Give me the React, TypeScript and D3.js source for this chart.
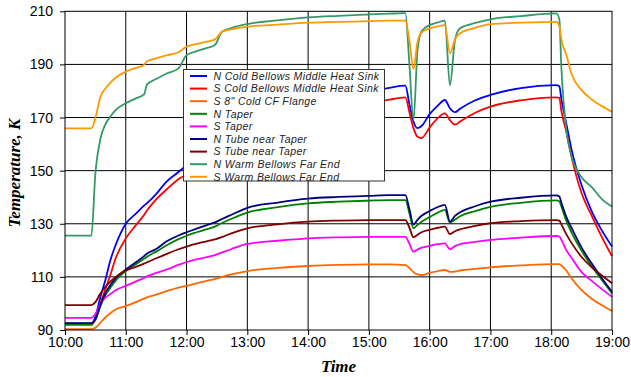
import * as d3 from "d3";
import * as React from "react";

// sample times (hh:mm), shared by every series
const times = [
  "10:00", "10:26", "10:30", "10:35", "10:40", "10:45", "10:50", "11:00", "11:10", "11:18",
  "11:21", "11:30", "11:40", "11:52", "12:00", "12:10", "12:20", "12:28", "12:35", "12:45",
  "13:00", "13:30", "14:00", "14:30", "15:00", "15:20", "15:36", "15:40", "15:44", "15:48",
  "15:52", "16:00", "16:08", "16:15", "16:20", "16:25", "16:30", "16:45", "17:00", "17:30",
  "18:05", "18:08", "18:10", "18:15", "18:20", "18:30", "18:40", "18:50", "19:00",
];

// temperatures, K
const nColdBellows = [
  92.4, 92.4, 95, 102.5, 109, 116.5, 122, 130, 133.8, 136.8,
  137.8, 141.2, 145.8, 149.5, 152, 155, 158, 160, 161.8, 164,
  167, 171.5, 175, 177.8, 179.8, 181.2, 182, 175, 168.5, 166,
  166.8, 171.3, 174.5, 176.6, 173.5, 172, 173.3, 176.5, 178.5, 181.1,
  182.2, 181.8, 177, 167.5, 158, 144.5, 134.7, 127.5, 121.4,
];
const sColdBellows = [
  91.9, 91.9, 94, 100, 105.5, 111, 117, 124.5, 129.5, 133.3,
  135, 139.2, 142.8, 146.8, 148.5, 151.5, 154, 156, 157.5, 159.5,
  162, 166, 169.5, 172.5, 175, 176.7, 177.6, 172, 166, 162.8,
  162.3, 166.3, 169.8, 171.6, 169, 167.3, 168.5, 171.8, 174.1, 176.5,
  177.6, 177.4, 172.5, 164.5, 155.3, 141.5, 133, 125, 117.8,
];
const cfFlange = [
  90.3, 90.3, 90.8, 92.8, 94.8, 96.4, 97.7, 99, 100.5, 101.8,
  102.3, 103.3, 104.6, 106, 106.6, 107.6, 108.5, 109.2, 110, 111,
  112.2, 113.4, 114.1, 114.5, 114.7, 114.7, 114.4, 113.3, 111.8, 110.9,
  110.7, 111.5, 112.2, 112.6, 111.9, 112, 112.4, 113, 113.6, 114.3,
  114.8, 114.8, 114.3, 112.3, 109.5, 105, 101.8, 99.3, 97.2,
];
const nTaper = [
  92.2, 92.2, 94, 99, 103.2, 106, 108.6, 112.2, 114.8, 116.8,
  117.6, 119.5, 121.8, 124.2, 125.5, 126.8, 128, 128.9, 130.3, 132,
  134.2, 136.3, 137.7, 138.3, 138.7, 138.9, 138.9, 134, 128.3, 129.6,
  130.8, 132.5, 134.2, 135.2, 130.4, 131.6, 132.8, 134.8, 136.4, 137.9,
  138.8, 138.5, 136.5, 131, 126.8, 119.8, 114, 108.8, 103.8,
];
const sTaper = [
  94.6, 94.6, 96, 100, 102.2, 103.6, 105, 106.6, 108.3, 109.6,
  110.2, 111.5, 112.7, 114.5, 115.6, 116.6, 117.4, 118.2, 119.2, 120.6,
  122.4, 123.6, 124.5, 124.9, 125.1, 125.1, 125.1, 122.5, 119.5, 120.3,
  121, 121.7, 122.3, 122.6, 120.4, 121.6, 122.3, 123.2, 123.9, 124.8,
  125.4, 125.2, 124, 120, 117.2, 111.8, 108.5, 105.4, 102.5,
];
const nTube = [
  92.6, 92.6, 94, 99.5, 104, 107, 109.5, 112.8, 115.5, 117.8,
  118.8, 120.5, 123.3, 125.6, 126.8, 128.2, 129.5, 130.5, 131.8, 133.5,
  136, 138, 139.5, 140.1, 140.5, 140.8, 140.8, 135.5, 129.7, 131.5,
  133, 134.8, 136.3, 137.1, 130.8, 133, 134.3, 136.6, 138.3, 139.8,
  140.7, 140.3, 138, 132.5, 128.5, 121, 115, 109.5, 104.4,
];
const sTube = [
  99.4, 99.4, 100.5, 103.8, 106.3, 108.3, 110, 112.4, 113.8, 115,
  115.5, 117, 118.6, 120.4, 121.4, 122.5, 123.4, 124.1, 125, 126.5,
  128.3, 129.8, 130.8, 131.2, 131.4, 131.4, 131.4, 128.5, 124.9, 125.9,
  126.8, 127.7, 128.5, 128.9, 126.1, 127.2, 127.9, 129.2, 130.2, 131,
  131.4, 131.2, 129.8, 126, 122.8, 117.5, 113.6, 110.5, 107.6,
];
const nWarmBellows = [
  125.5, 125.5, 149, 162, 167.5, 170.5, 172.8, 175.4, 177.2, 178.7,
  182.5, 184.5, 186.5, 188.5, 193.5, 195, 196.2, 197.3, 202.3, 203.8,
  205.2, 206.6, 207.7, 208.3, 208.8, 209.1, 209.3, 190, 169, 195.4,
  202.5, 204.8, 205.8, 206.5, 182.2, 199.2, 203.6, 205.6, 207, 208.2,
  209.2, 207, 189, 165, 155.5, 147.5, 143.8, 139.3, 136.5,
];
const sWarmBellows = [
  165.9, 165.9, 169.8, 177.8, 181, 183.2, 185, 187.3, 188.7, 189.8,
  191.2, 192.3, 193.4, 194.6, 196.7, 197.7, 198.6, 199.4, 202.3, 203.3,
  204.2, 205, 205.7, 206, 206.3, 206.5, 206.5, 199, 188.2, 198.5,
  202, 203.6, 204.3, 204.8, 194.2, 199.5, 201.7, 203.8, 205.2, 205.7,
  206, 204.5, 199.5, 193.5, 186.5, 180.3, 176.8, 174.3, 172.2,
];

const seriesNames = [
  "N Cold Bellows Middle Heat Sink",
  "S Cold Bellows Middle Heat Sink",
  "S 8\" Cold CF Flange",
  "N Taper",
  "S Taper",
  "N Tube near Taper",
  "S Tube near Taper",
  "N Warm Bellows Far End",
  "S Warm Bellows Far End",
];
const seriesValues = [
  nColdBellows, sColdBellows, cfFlange, nTaper, sTaper,
  nTube, sTube, nWarmBellows, sWarmBellows,
];
const seriesColors = [
  "#0000ff", "#ff0000", "#ff6600", "#008000", "#ff00ff",
  "#000080", "#800000", "#339966", "#ff9900",
];

const yTicks = [90, 110, 130, 150, 170, 190, 210];
const xTickLabels = [
  "10:00", "11:00", "12:00", "13:00", "14:00", "15:00", "16:00", "17:00", "18:00", "19:00",
];

const sans = "'Liberation Sans', Arial, sans-serif";
const serif = "'Liberation Serif', 'Times New Roman', serif";

export default function App() {
  const ref = React.useRef<SVGSVGElement>(null);

  React.useEffect(() => {
    const left = 65, right = 612, top = 11.3, bottom = 330;
    const parseTime = d3.timeParse("%H:%M");
    const tx = times.map((t) => parseTime(t) as Date);

    const x = d3
      .scaleTime()
      .domain([parseTime("10:00") as Date, parseTime("19:00") as Date])
      .range([left, right]);
    const y = d3.scaleLinear().domain([90, 210]).range([bottom, top]);

    const svg = d3.select(ref.current as SVGSVGElement);
    svg.selectAll("*").remove();

    // grid
    const grid = svg.append("g");
    grid
      .selectAll("line.h")
      .data(yTicks.slice(1, -1))
      .enter()
      .append("line")
      .attr("class", "h")
      .attr("x1", left)
      .attr("x2", right)
      .attr("y1", (d) => y(d))
      .attr("y2", (d) => y(d))
      .attr("stroke", "#000")
      .attr("stroke-width", 1);
    grid
      .selectAll("line.v")
      .data(xTickLabels.slice(1, -1))
      .enter()
      .append("line")
      .attr("class", "v")
      .attr("x1", (d) => x(parseTime(d) as Date))
      .attr("x2", (d) => x(parseTime(d) as Date))
      .attr("y1", top)
      .attr("y2", bottom)
      .attr("stroke", "#000")
      .attr("stroke-width", 1);

    // axes
    const yAxis = svg
      .append("g")
      .attr("transform", `translate(${left},0)`)
      .call(d3.axisLeft(y).tickValues(yTicks).tickSize(5).tickPadding(7));
    yAxis.select(".domain").remove();
    yAxis.selectAll("text").attr("font-family", sans).attr("font-size", 14).attr("fill", "#000");

    const xAxis = svg
      .append("g")
      .attr("transform", `translate(0,${bottom})`)
      .call(
        d3
          .axisBottom(x)
          .tickValues(xTickLabels.map((t) => parseTime(t) as Date))
          .tickFormat(d3.timeFormat("%H:%M") as any)
          .tickSize(5)
          .tickPadding(2)
      );
    xAxis.select(".domain").remove();
    xAxis.selectAll("text").attr("font-family", sans).attr("font-size", 14).attr("fill", "#000");

    // curves
    const line = d3
      .line<number>()
      .x((d, i) => x(tx[i]))
      .y((d) => y(d))
      .curve(d3.curveMonotoneX);

    svg
      .append("g")
      .selectAll("path")
      .data(seriesValues)
      .enter()
      .append("path")
      .attr("d", (d) => line(d))
      .attr("fill", "none")
      .attr("stroke", (d, i) => seriesColors[i])
      .attr("stroke-width", 1.8)
      .attr("stroke-linejoin", "round");

    // legend
    const lg = svg.append("g");
    lg.append("rect")
      .attr("x", 183.5)
      .attr("y", 69.5)
      .attr("width", 201)
      .attr("height", 111.5)
      .attr("fill", "#fff")
      .attr("stroke", "#333")
      .attr("stroke-width", 1);
    const rows = lg
      .selectAll("g.row")
      .data(seriesNames)
      .enter()
      .append("g")
      .attr("class", "row")
      .attr("transform", (d, i) => `translate(0,${76 + i * 12.6})`);
    rows
      .append("line")
      .attr("x1", 190)
      .attr("x2", 207)
      .attr("stroke", (d, i) => seriesColors[i])
      .attr("stroke-width", 2);
    rows
      .append("text")
      .attr("x", 213.5)
      .attr("y", 3.8)
      .attr("font-family", sans)
      .attr("font-style", "italic")
      .attr("font-size", 10.5)
      .attr("letter-spacing", 0.4)
      .attr("fill", "#222")
      .text((d) => d);

    // frame
    svg
      .append("rect")
      .attr("x", left)
      .attr("y", top)
      .attr("width", right - left)
      .attr("height", bottom - top)
      .attr("fill", "none")
      .attr("stroke", "#000")
      .attr("stroke-width", 1);

    // titles
    svg
      .append("text")
      .attr("x", (left + right) / 2)
      .attr("y", 372)
      .attr("text-anchor", "middle")
      .attr("font-family", serif)
      .attr("font-weight", "bold")
      .attr("font-style", "italic")
      .attr("font-size", 17)
      .text("Time");
    svg
      .append("text")
      .attr("transform", "translate(20,173) rotate(-90)")
      .attr("text-anchor", "middle")
      .attr("font-family", serif)
      .attr("font-weight", "bold")
      .attr("font-style", "italic")
      .attr("font-size", 17)
      .text("Temperature, K");
  }, []);

  return (
    <svg
      ref={ref}
      width={631}
      height={377}
      style={{ position: "absolute", left: 0, top: 0, background: "#fff" }}
    />
  );
}
